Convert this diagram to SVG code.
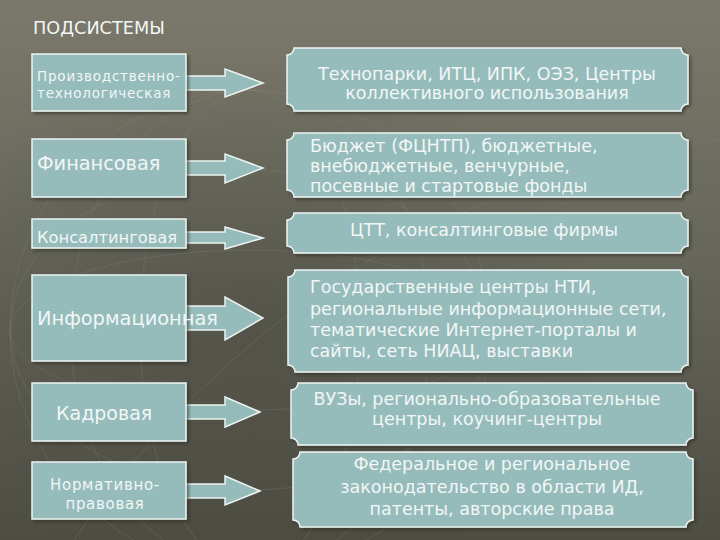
<svg xmlns="http://www.w3.org/2000/svg" width="720" height="540" viewBox="0 0 720 540">
<defs>
<linearGradient id="bg" x1="0" y1="0" x2="0" y2="1">
<stop offset="0" stop-color="#7a796b"/>
<stop offset="0.5" stop-color="#66655a"/>
<stop offset="1" stop-color="#4e4d44"/>
</linearGradient>
<radialGradient id="glow" cx="0.35" cy="0.6" r="0.5">
<stop offset="0" stop-color="#3d3c35" stop-opacity="0.35"/>
<stop offset="1" stop-color="#3d3c35" stop-opacity="0"/>
</radialGradient>
<filter id="sh" x="-5%" y="-10%" width="115%" height="130%">
<feDropShadow dx="2" dy="2" stdDeviation="1.5" flood-color="#2a2a24" flood-opacity="0.6"/>
</filter>
</defs>
<style>
.box{fill:#95bcbb;stroke:#eef4f2;stroke-width:1.5}
.arr{fill:#95bcbb;stroke:#eef4f2;stroke-width:1.5;stroke-linejoin:miter}
.t{font-family:"DejaVu Sans","Liberation Sans",sans-serif;fill:#f2f6f5}
.r{font-size:17.5px}
.c{text-anchor:middle}
.grid{fill:none;stroke:#8a8a7a;stroke-opacity:0.25;stroke-width:1}
</style>
<rect width="720" height="540" fill="url(#bg)"/>
<rect width="720" height="540" fill="url(#glow)"/>
<g class="grid">
<ellipse cx="250" cy="330" rx="240" ry="240"/>
<ellipse cx="250" cy="330" rx="180" ry="240"/>
<ellipse cx="250" cy="330" rx="110" ry="240"/>
<ellipse cx="250" cy="330" rx="240" ry="160"/>
<ellipse cx="250" cy="330" rx="240" ry="80"/>
<path d="M60,560 Q300,200 720,140"/>
</g>
<text class="t" x="33" y="34" font-size="17.7">ПОДСИСТЕМЫ</text>

<g id="connectors">
<path class="arr" d="M186,76 H225 V69 L263,83 L225,97 V90 H186"/>
<path class="arr" d="M186,161 H225 V154 L263,168 L225,183 V175 H186"/>
<path class="arr" d="M186,232 H225 V227 L263,238 L225,249 V243 H186"/>
<path class="arr" d="M186,306 H225 V297 L263,318 L225,340 V330 H186"/>
<path class="arr" d="M186,405 H225 V397 L260,412 L225,427 V419 H186"/>
<path class="arr" d="M186,484 H225 V476 L260,491 L225,505 V498 H186"/>
</g>

<g id="n-prod"><rect class="box" x="32" y="54" width="154" height="57" filter="url(#sh)"/>
<text class="t" font-size="13.5" letter-spacing="0.8"><tspan x="37" y="81">Производственно-</tspan><tspan x="37" y="98">технологическая</tspan></text></g>
<g id="n-fin"><rect class="box" x="32" y="139" width="154" height="58" filter="url(#sh)"/>
<text class="t" x="37" y="170" font-size="19.3">Финансовая</text></g>
<g id="n-cons"><rect class="box" x="32" y="219" width="154" height="29" filter="url(#sh)"/>
<text class="t" x="37" y="243" font-size="16.3">Консалтинговая</text></g>
<g id="n-inf"><rect class="box" x="32" y="275" width="154" height="86" filter="url(#sh)"/>
<text class="t" x="37" y="325" font-size="19.4">Информационная</text></g>
<g id="n-kad"><rect class="box" x="32" y="383" width="154" height="58" filter="url(#sh)"/>
<text class="t" x="56" y="420" font-size="19">Кадровая</text></g>
<g id="n-norm"><rect class="box" x="32" y="462" width="154" height="57" filter="url(#sh)"/>
<text class="t c" font-size="15" letter-spacing="0.7"><tspan x="105" y="490">Нормативно-</tspan><tspan x="105" y="509">правовая</tspan></text></g>

<g id="r-tech"><path class="box" filter="url(#sh)" d="M294,48 H681 A7,7 0 0 0 688,55 V104 A7,7 0 0 0 681,111 H294 A7,7 0 0 0 287,104 V55 A7,7 0 0 0 294,48 Z"/>
<text class="t r c"><tspan x="487" y="80">Технопарки, ИТЦ, ИПК, ОЭЗ, Центры</tspan><tspan x="487" y="99">коллективного использования</tspan></text></g>
<g id="r-fin"><path class="box" filter="url(#sh)" d="M294,133 H681 A7,7 0 0 0 688,140 V190 A7,7 0 0 0 681,197 H294 A7,7 0 0 0 287,190 V140 A7,7 0 0 0 294,133 Z"/>
<text class="t r"><tspan x="310" y="152">Бюджет (ФЦНТП), бюджетные,</tspan><tspan x="310" y="172">внебюджетные, венчурные,</tspan><tspan x="310" y="192">посевные и стартовые фонды</tspan></text></g>
<g id="r-cons"><path class="box" filter="url(#sh)" d="M294,213 H681 A7,7 0 0 0 688,220 V246 A7,7 0 0 0 681,253 H294 A7,7 0 0 0 287,246 V220 A7,7 0 0 0 294,213 Z"/>
<text class="t r c" x="484" y="236">ЦТТ, консалтинговые фирмы</text></g>
<g id="r-inf"><path class="box" filter="url(#sh)" d="M295,270 H681 A7,7 0 0 0 688,277 V365 A7,7 0 0 0 681,372 H295 A7,7 0 0 0 288,365 V277 A7,7 0 0 0 295,270 Z"/>
<text class="t r"><tspan x="310" y="293">Государственные центры НТИ,</tspan><tspan x="310" y="315">региональные информационные сети,</tspan><tspan x="310" y="336">тематические Интернет-порталы и</tspan><tspan x="310" y="357">сайты, сеть НИАЦ, выставки</tspan></text></g>
<g id="r-kad"><path class="box" filter="url(#sh)" d="M298,383 H686 A7,7 0 0 0 693,390 V438 A7,7 0 0 0 686,445 H298 A7,7 0 0 0 291,438 V390 A7,7 0 0 0 298,383 Z"/>
<text class="t r c"><tspan x="487" y="405">ВУЗы, регионально-образовательные</tspan><tspan x="487" y="425">центры, коучинг-центры</tspan></text></g>
<g id="r-norm"><path class="box" filter="url(#sh)" d="M300,452 H686 A7,7 0 0 0 693,459 V520 A7,7 0 0 0 686,527 H300 A7,7 0 0 0 293,520 V459 A7,7 0 0 0 300,452 Z"/>
<text class="t r c"><tspan x="492" y="470">Федеральное и региональное</tspan><tspan x="492" y="493">законодательство в области ИД,</tspan><tspan x="492" y="515">патенты, авторские права</tspan></text></g>
</svg>
